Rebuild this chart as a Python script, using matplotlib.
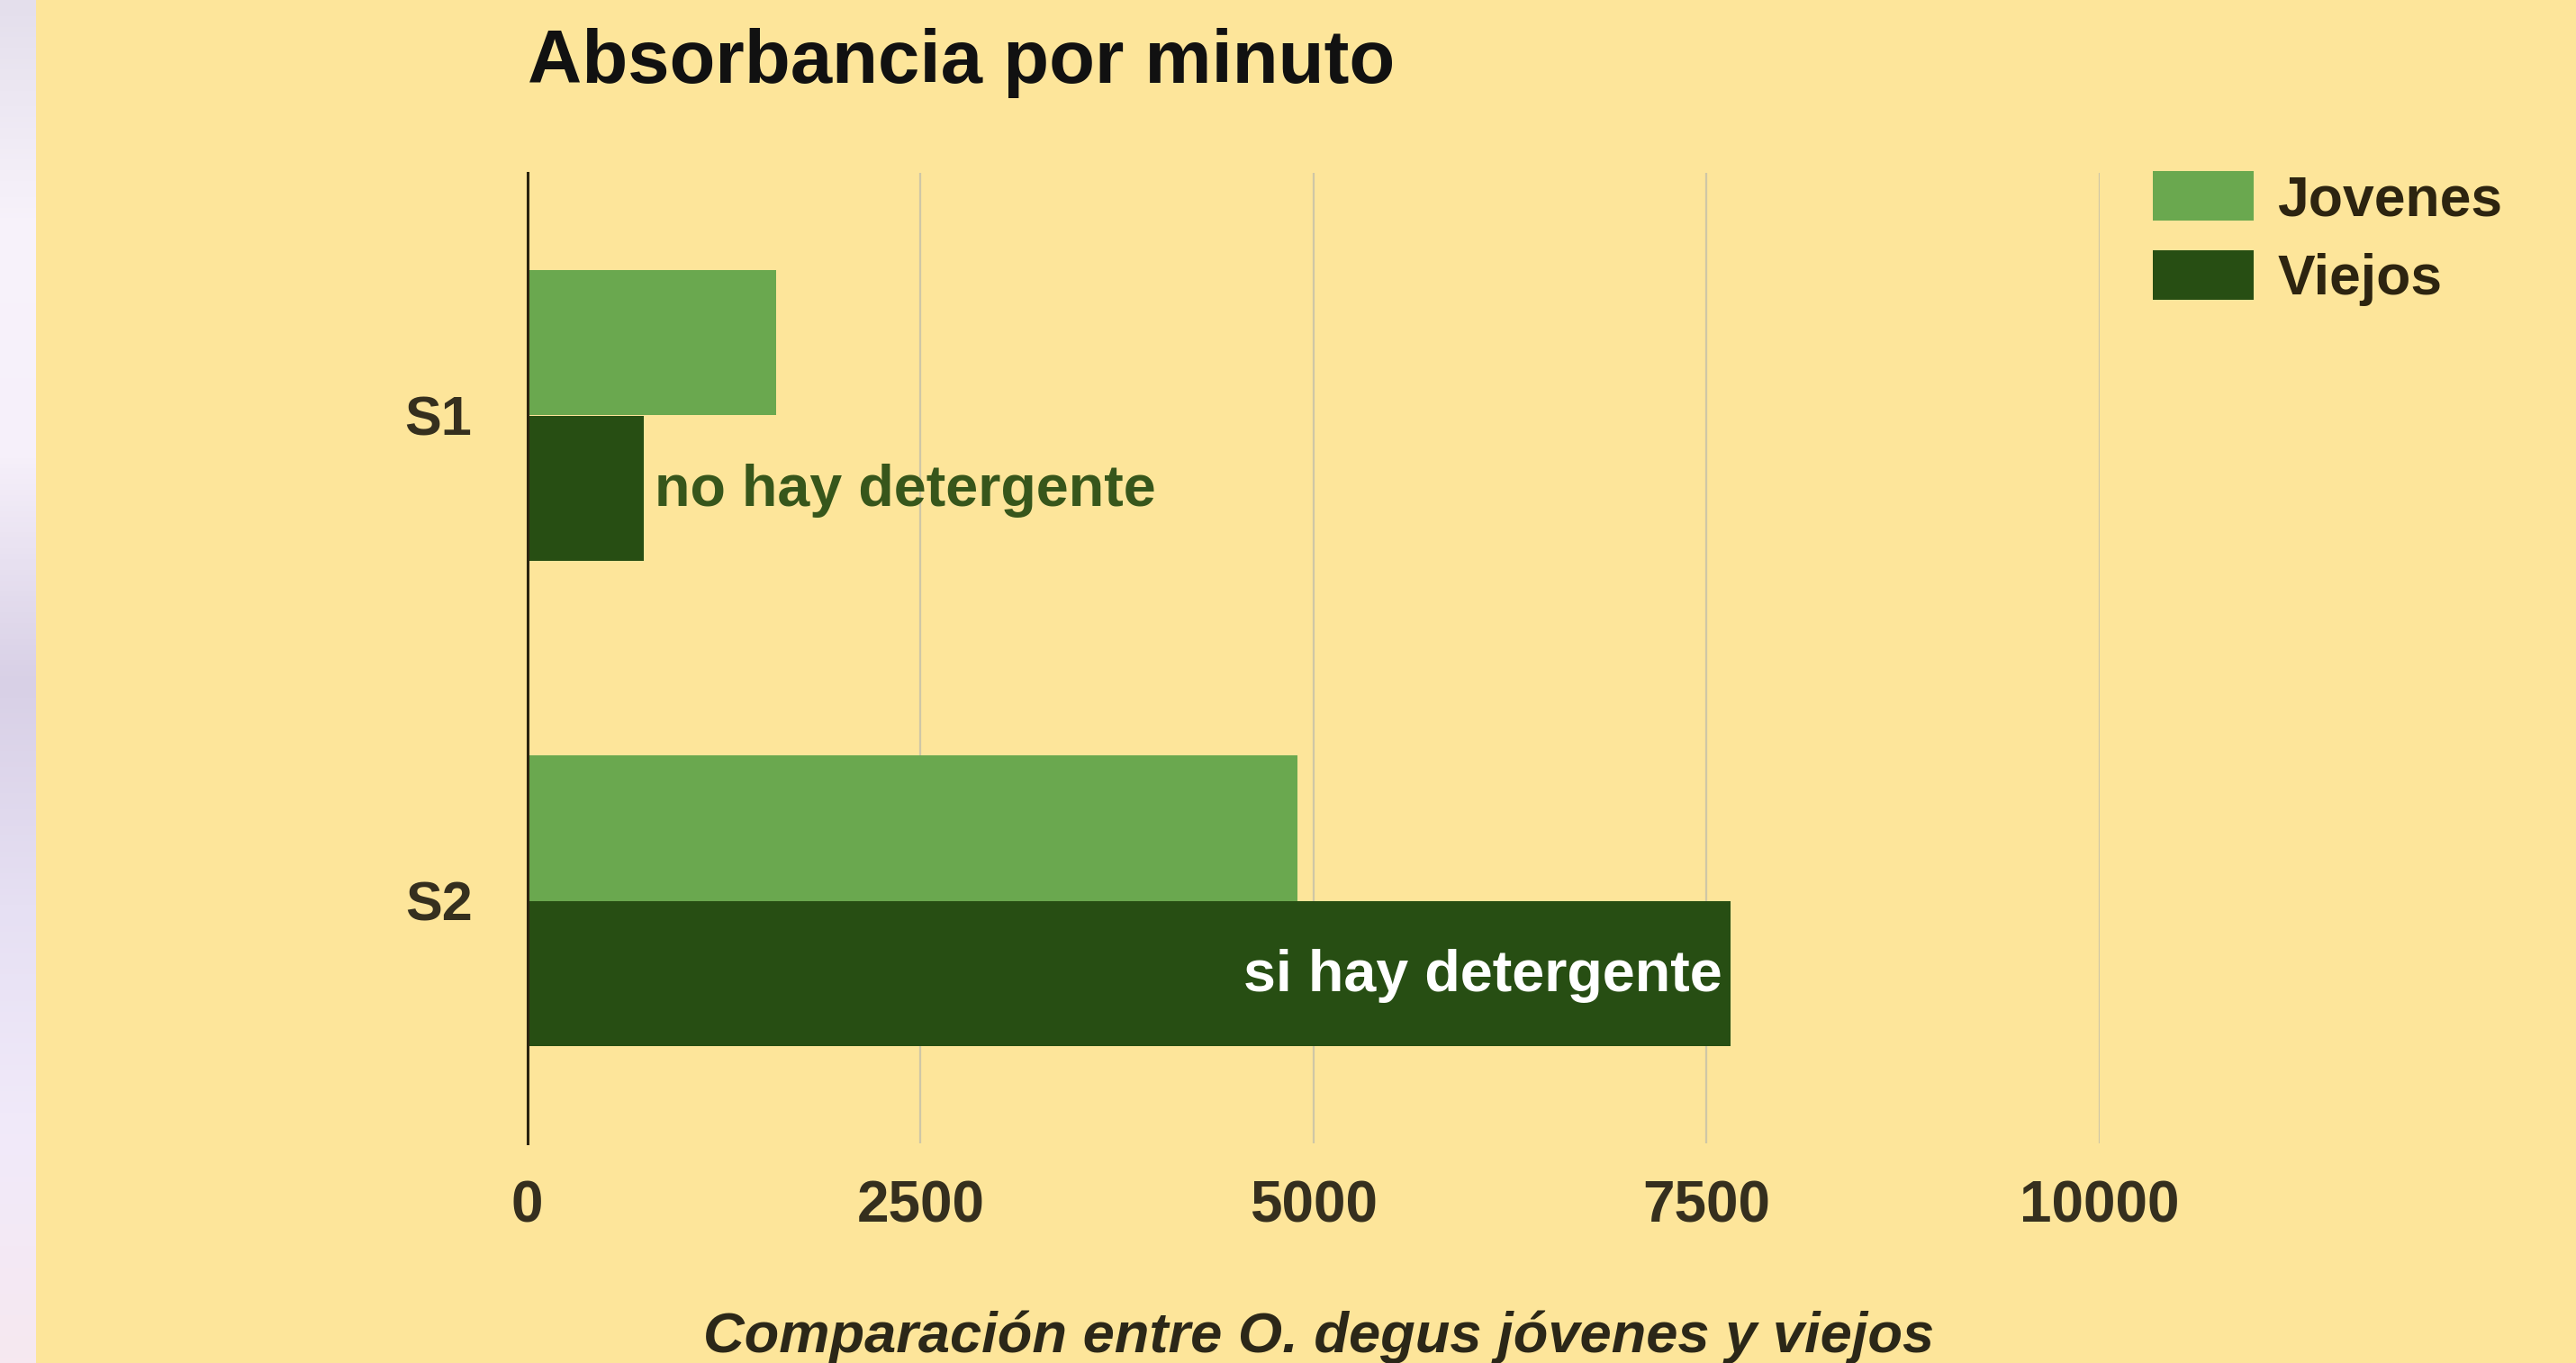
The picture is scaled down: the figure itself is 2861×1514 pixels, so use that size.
import numpy as np
import matplotlib
matplotlib.use("Agg")
import matplotlib.pyplot as plt
from matplotlib.patches import Patch
from matplotlib.colors import LinearSegmentedColormap

# ---- data ----
categories = ["S1", "S2"]
jovenes = [1580, 4900]
viejos = [740, 7650]
series_labels = ["Jovenes", "Viejos"]
xticks = [0, 2500, 5000, 7500, 10000]
xtick_labels = ["0", "2500", "5000", "7500", "10000"]
annotations = ["no hay detergente", "si hay detergente"]
title = "Absorbancia por minuto"
xlabel = "Comparación entre O. degus jóvenes y viejos"

# ---- style ----
W, H = 2861, 1514
DPI = 100
BG = "#fde59a"
C_JOV = "#6aa84f"
C_VIE = "#274e13"
FONT = "Liberation Sans"
TXT = "#352f1e"

fig = plt.figure(figsize=(W / DPI, H / DPI), dpi=DPI, facecolor=BG)

# decorative lavender strip at left edge
strip = fig.add_axes([0, 0, 40 / W, 1])
cmap = LinearSegmentedColormap.from_list(
    "strip", ["#e4dfec", "#f8f3fb", "#f6f0fa", "#d8d0e6", "#e6e0f3", "#f1eafa", "#f6e8f0"])
strip.imshow(np.linspace(0, 1, 256).reshape(-1, 1), aspect="auto", cmap=cmap,
             extent=[0, 1, 0, 1], origin="upper")
strip.axis("off")

left, right = 585.7 / W, 2331.9 / W
top, bottom = 1 - 192 / H, 1 - 1270 / H
ax = fig.add_axes([left, bottom, right - left, top - bottom])
ax.set_facecolor(BG)

y = np.arange(len(categories))
h = 0.3
ax.barh(y - h / 2, jovenes, height=h, color=C_JOV, label=series_labels[0], zorder=3)
ax.barh(y + h / 2, viejos, height=h, color=C_VIE, label=series_labels[1], zorder=3)

ax.set_xlim(0, 10000)
ax.set_ylim(1.5, -0.5)
ax.set_xticks(xticks)
ax.set_xticklabels(xtick_labels)
ax.set_yticks(y)
ax.set_yticklabels(categories)
ax.tick_params(axis="both", length=0)
ax.tick_params(axis="x", pad=29)
ax.tick_params(axis="y", pad=44)
for lab in ax.get_xticklabels():
    lab.set_fontfamily(FONT)
    lab.set_fontweight("bold")
    lab.set_fontsize(46)
    lab.set_color(TXT)
for lab in ax.get_yticklabels():
    lab.set_fontfamily(FONT)
    lab.set_fontweight("bold")
    lab.set_fontsize(44)
    lab.set_color(TXT)

for s in ["top", "right", "bottom"]:
    ax.spines[s].set_visible(False)
ax.spines["left"].set_color("#2b2410")
ax.spines["left"].set_linewidth(2.2)
ax.spines["left"].set_zorder(4)

ax.grid(axis="x", color="#cfc7a6", linewidth=1.6, zorder=1)
ax.set_axisbelow(True)

# annotations
ax.annotate(annotations[0], xy=(viejos[0], y[0] + h / 2), xytext=(9, -14),
            textcoords="offset points", va="baseline", ha="left",
            fontfamily=FONT, fontweight="bold", fontsize=46.5, color="#37561b", zorder=5)
ax.annotate(annotations[1], xy=(viejos[1], y[1] + h / 2), xytext=(-6, -14),
            textcoords="offset points", va="baseline", ha="right",
            fontfamily=FONT, fontweight="bold", fontsize=46.5, color="white", zorder=5)

# title and axis label
fig.text(left, 1 - 92 / H, title, ha="left", va="baseline",
         fontfamily=FONT, fontweight="bold", fontsize=60, color="#111111")
fig.text((left + right) / 2 + 6 / W, 1 - 1485 / H, xlabel, ha="center", va="center",
         fontfamily=FONT, fontweight="bold", fontstyle="italic", fontsize=45.5, color="#2b2718")

# legend
handles = [Patch(facecolor=C_JOV), Patch(facecolor=C_VIE)]
leg = fig.legend(handles, series_labels, loc="upper left",
                 bbox_to_anchor=(2391 / W, 1 - 190 / H), bbox_transform=fig.transFigure,
                 frameon=False, borderpad=0, borderaxespad=0,
                 handlelength=1.79, handleheight=0.98, handletextpad=0.42,
                 labelspacing=0.42, prop={"family": FONT, "weight": "bold", "size": 45})
for t in leg.get_texts():
    t.set_color("#2d2410")

fig.savefig("out.png", dpi=DPI, facecolor=BG)
